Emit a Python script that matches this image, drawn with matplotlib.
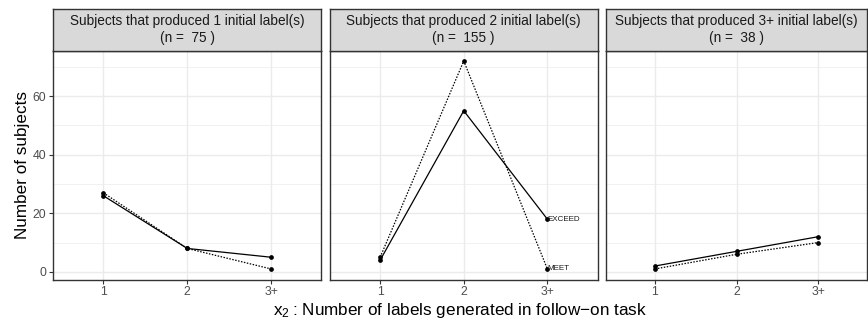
import matplotlib

matplotlib.use("Agg")

import matplotlib.pyplot as plt

plt.rcParams["font.family"] = ["Liberation Sans", "DejaVu Sans"]
plt.rcParams["mathtext.fontset"] = "custom"
plt.rcParams["mathtext.rm"] = "Liberation Sans"
plt.rcParams["mathtext.it"] = "Liberation Sans"

categories = ["1", "2", "3+"]
panel_titles = [
    "Subjects that produced 1 initial label(s)\n(n =  75 )",
    "Subjects that produced 2 initial label(s)\n(n =  155 )",
    "Subjects that produced 3+ initial label(s)\n(n =  38 )",
]
exceed = [[26, 8, 5], [4, 55, 18], [2, 7, 12]]
meet = [[27, 8, 1], [5, 72, 1], [1, 6, 10]]
y_ticks = [0, 20, 40, 60]
y_minor = [10, 30, 50, 70]

W, H = 868, 322
fig = plt.figure(figsize=(W / 100, H / 100), dpi=100)

# panel extents in pixels (left, right)
panels_px = [(53, 321.5), (330, 597.5), (606, 867)]
top_px, bottom_px, strip_top_px = 50.7, 279.5, 9

for i, (x0, x1) in enumerate(panels_px):
    ax = fig.add_axes([x0 / W, 1 - bottom_px / H, (x1 - x0) / W,
                       (bottom_px - top_px) / H])
    xs = range(len(categories))
    ax.plot(xs, exceed[i], color="black", lw=0.9, marker="o", ms=2.4, zorder=3)
    ax.plot(xs, meet[i], color="black", lw=0.9, ls=(0, (1.2, 1.2)), marker="o",
            ms=2.4, zorder=3)
    ax.set_xlim(-0.6, 2.6)
    ax.set_ylim(-2.6, 75.5)
    ax.set_xticks(list(xs))
    ax.set_xticklabels(categories)
    ax.set_yticks(y_ticks)
    ax.set_yticks(y_minor, minor=True)
    ax.grid(True, which="major", color="#EBEBEB", lw=1.0)
    ax.grid(True, which="minor", axis="y", color="#EBEBEB", lw=0.5)
    ax.set_axisbelow(True)
    for s in ax.spines.values():
        s.set_color("#333333")
        s.set_linewidth(1.0)
    ax.tick_params(which="major", length=3, color="#333333", labelcolor="#4D4D4D",
                   labelsize=8.8, pad=2)
    ax.tick_params(which="minor", length=0)
    if i > 0:
        ax.tick_params(axis="y", labelleft=False, length=0)
    if i == 1:
        ax.text(2, exceed[i][2], "EXCEED", fontsize=5.8, ha="left", va="center",
                color="#1A1A1A")
        ax.text(2, meet[i][2], "MEET", fontsize=5.8, ha="left", va="center",
                color="#1A1A1A")
    if i == 0:
        ax.set_ylabel("Number of subjects", fontsize=12.3, labelpad=2)

    sx = fig.add_axes([x0 / W, 1 - top_px / H, (x1 - x0) / W,
                       (top_px - strip_top_px) / H])
    sx.set_facecolor("#D9D9D9")
    sx.set_xticks([])
    sx.set_yticks([])
    for s in sx.spines.values():
        s.set_color("#333333")
        s.set_linewidth(1.0)
    sx.text(0.5, 0.5, panel_titles[i], ha="center", va="center", fontsize=9.8,
            color="#1A1A1A", transform=sx.transAxes, linespacing=1.25)

fig.text(460 / W, 1 - 310 / H,
         r"$\mathregular{x_2}$" + "\u2009: Number of labels generated in follow\u2212on task",
         ha="center", va="center", fontsize=12.3)

fig.savefig("out.png", dpi=100)
